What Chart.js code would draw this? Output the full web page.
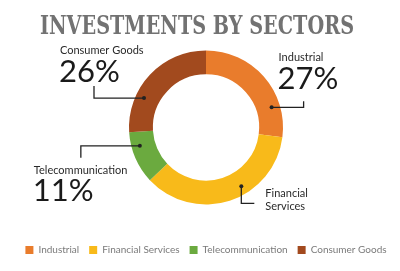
<!DOCTYPE html>
<html>
<head>
<meta charset="utf-8">
<script src="https://cdn.jsdelivr.net/npm/chart.js@4"></script>
<style>
  html, body { margin: 0; padding: 0; background: #fff; }
  #wrap { width: 400px; height: 271px; }
</style>
</head>
<body>
<div id="wrap"><canvas id="sectorChart"></canvas></div>
<script>
var chartTitle = 'INVESTMENTS BY SECTORS';
var sectors = ['Industrial', 'Financial Services', 'Telecommunication', 'Consumer Goods'];
var shares = [27, 36, 11, 26];
var colors = ['#E97C2C', '#F8BA1A', '#6BAA3F', '#A24A1E'];
// which slices get a big percent under their name
var showPercent = [true, false, true, true];
// names as printed next to the ring
var calloutNames = [['Industrial'], ['Financial', 'Services'], ['Telecommunication'], ['Consumer Goods']];

// callout layout per slice: where on the arc the dot sits, and how the leader runs
var callouts = [
  { frac: 0.75, elbow: [32, 0], end: [0, -6], text: [7, -55] },
  { frac: 0.40, elbow: [0, 17], end: [13, 0], text: [24, 2] },
  { frac: 0.70, elbow: [-59, 0], end: [0, 12], text: [-106, 19] },
  { frac: 0.31, elbow: [-50, 0], end: [0, -12], text: [-84, -53] }
];

// slab title, squeezed sideways to get the condensed look
var titlePlugin = {
  id: 'slabTitle',
  afterDraw: function(chart) {
    var ctx = chart.ctx;
    ctx.save();
    ctx.font = 'bold 26px "DejaVu Serif"';
    ctx.fillStyle = '#727272';
    ctx.textAlign = 'center';
    ctx.textBaseline = 'alphabetic';
    ctx.translate(197, 34);
    ctx.scale(0.74, 1);
    ctx.fillText(chartTitle, 0, 0);
    ctx.restore();
  }
};

var calloutPlugin = {
  id: 'callouts',
  afterDatasetsDraw: function(chart) {
    var ctx = chart.ctx;
    var meta = chart.getDatasetMeta(0);
    var total = shares.reduce(function(a, b) { return a + b; }, 0);
    meta.data.forEach(function(arc, i) {
      var c = callouts[i];
      var a = arc.startAngle + (arc.endAngle - arc.startAngle) * c.frac;
      var r = arc.innerRadius + (arc.outerRadius - arc.innerRadius) * 0.65;
      var x0 = arc.x + Math.cos(a) * r;
      var y0 = arc.y + Math.sin(a) * r;
      var x1 = x0 + c.elbow[0], y1 = y0 + c.elbow[1];
      var x2 = x1 + c.end[0], y2 = y1 + c.end[1];
      ctx.save();
      ctx.strokeStyle = '#222';
      ctx.lineWidth = 1.3;
      ctx.beginPath();
      ctx.moveTo(x0, y0);
      ctx.lineTo(x1, y1);
      ctx.lineTo(x2, y2);
      ctx.stroke();
      ctx.fillStyle = '#222';
      ctx.beginPath();
      ctx.arc(x0, y0, 2, 0, Math.PI * 2);
      ctx.fill();

      var tx = x0 + c.text[0], ty = y0 + c.text[1];
      ctx.textAlign = 'left';
      ctx.textBaseline = 'top';
      ctx.fillStyle = '#2a2a2a';
      ctx.font = '11px Lato';
      calloutNames[i].forEach(function(line, k) {
        ctx.fillText(line, tx, ty + k * 13);
      });
      if (showPercent[i]) {
        ctx.font = '31px Lato';
        ctx.fillStyle = '#1a1a1a';
        ctx.fillText(Math.round(shares[i] / total * 100) + '%', tx - 1, ty + 11);
      }
      ctx.restore();
    });
  }
};

new Chart(document.getElementById('sectorChart'), {
  type: 'doughnut',
  data: {
    labels: sectors,
    datasets: [{
      data: shares,
      backgroundColor: colors,
      borderWidth: 0
    }]
  },
  options: {
    responsive: true,
    maintainAspectRatio: false,
    animation: false,
    radius: 77,
    cutout: '69%',
    layout: { padding: { left: 12, right: 0, top: 20, bottom: 6 } },
    plugins: {
      title: { display: false },
      legend: {
        position: 'bottom',
        labels: {
          boxWidth: 8,
          boxHeight: 8,
          color: '#7a7a7a',
          font: { family: 'Lato', size: 10 },
          padding: 10
        }
      },
      tooltip: { enabled: false }
    }
  },
  plugins: [calloutPlugin, titlePlugin]
});
</script>
</body>
</html>
